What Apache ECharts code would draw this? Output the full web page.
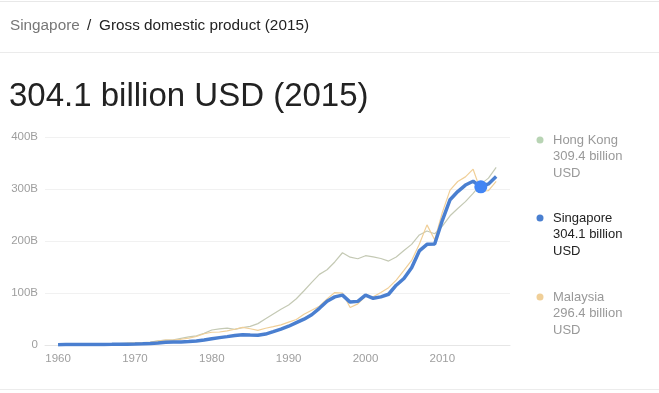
<!DOCTYPE html>
<html>
<head>
<meta charset="utf-8">
<script src="https://cdn.jsdelivr.net/npm/echarts@6/dist/echarts.min.js"></script>
<style>
html,body{margin:0;padding:0;background:#fff;}
#c{width:659px;height:393px;}
</style>
</head>
<body>
<div id="c"></div>
<script>
const years = [];
for (let y = 1960; y <= 2017; y++) years.push(y);
const singapore = [0.70,0.76,0.82,0.92,0.89,0.97,1.09,1.24,1.43,1.68,1.92,2.26,2.72,3.69,5.22,5.63,5.99,6.67,7.85,9.63,11.9,14.2,16.1,18.1,19.7,19.0,18.7,21.0,25.6,30.5,36.1,43.0,49.7,58.2,70.6,84.3,92.5,95.9,82.5,83.9,96.1,89.8,92.5,97.6,115.0,127.8,148.6,180.9,193.6,194.2,239.8,279.4,295.1,307.6,314.9,304.1,309.8,323.9];
const hongKong = [1.32,1.41,1.67,1.91,2.20,2.44,2.62,2.75,2.92,3.46,3.80,4.47,5.73,8.03,9.65,10.1,12.9,15.6,17.7,22.3,28.9,31.0,32.3,29.9,33.5,35.7,41.1,50.6,59.7,68.8,76.9,88.9,104.3,120.4,135.8,144.7,159.7,177.4,168.9,165.8,171.7,169.4,166.3,161.4,169.1,181.6,193.5,211.6,219.3,214.0,228.6,248.5,262.6,275.7,291.5,309.4,320.9,341.4];
const malaysia = [1.92,1.88,2.00,2.20,2.39,2.58,2.74,2.87,2.89,3.17,3.86,4.24,5.08,7.66,9.65,9.34,11.0,13.2,16.4,21.6,24.5,25.0,27.3,30.3,33.9,31.2,28.0,32.2,35.3,38.8,44.0,49.1,59.2,66.9,74.5,88.7,100.9,100.0,72.2,79.1,93.8,92.8,100.8,110.2,124.7,143.5,162.7,193.6,231.0,202.3,255.0,297.9,314.4,323.3,338.1,296.4,296.8,314.7];
const xTicks = [1960,1970,1980,1990,2000,2010];
const yTicks = [0,100,200,300,400];
const highlightYear = 2015;

const font = 'Liberation Sans, Arial, sans-serif';
const pair = arr => years.map((y,i)=>[y,arr[i]]);
const sgData = years.map((y,i)=> y===highlightYear
  ? {value:[y,singapore[i]], symbol:'circle', symbolSize:13, itemStyle:{color:'#4285f4',opacity:1}}
  : {value:[y,singapore[i]]});

const chart = echarts.init(document.getElementById('c'));
chart.setOption({
  animation:false,
  grid:{left:45,right:149,top:137,bottom:48},
  xAxis:{type:'value',min:1958.3,max:2018.8,
    axisLine:{show:true,lineStyle:{color:'#e6e6e6'}},
    axisTick:{show:false},
    splitLine:{show:false},
    axisLabel:{customValues:xTicks,color:'#9e9e9e',fontSize:11.5,fontFamily:font,margin:8,
      formatter:v=>String(v)}},
  yAxis:{type:'value',min:0,max:400,interval:100,
    axisLine:{show:false},axisTick:{show:false},
    splitLine:{lineStyle:{color:'#f1f1f1'}},
    axisLabel:{color:'#9e9e9e',fontSize:11.5,fontFamily:font,margin:7,
      formatter:v=> v===0?'0':v+'B'}},
  series:[
    {name:'Hong Kong',type:'line',data:pair(hongKong),showSymbol:false,
      lineStyle:{color:'#c4c9b4',width:1.2},z:2},
    {name:'Malaysia',type:'line',data:pair(malaysia),showSymbol:false,
      lineStyle:{color:'#f0cf98',width:1.2},z:2},
    {name:'Singapore',type:'line',data:sgData,showSymbol:true,symbol:'none',showAllSymbol:true,
      lineStyle:{color:'#4a7fd0',width:3.5},itemStyle:{color:'#4285f4'},z:3}
  ],
  graphic:[
    {type:'rect',shape:{x:0,y:1,width:659,height:1},style:{fill:'#e8e8e8'}},
    {type:'text',left:10,top:18,style:{text:'Singapore',fill:'#777',font:'15.3px '+font}},
    {type:'text',left:87,top:18,style:{text:'/',fill:'#222',font:'15.3px '+font}},
    {type:'text',left:99,top:18,style:{text:'Gross domestic product (2015)',fill:'#222',font:'15.3px '+font}},
    {type:'rect',shape:{x:0,y:52,width:659,height:1},style:{fill:'#ebebeb'}},
    {type:'text',left:9,top:80,style:{text:'304.1 billion USD (2015)',fill:'#222',font:'33px '+font}},
    {type:'rect',shape:{x:0,y:389,width:659,height:1},style:{fill:'#ececec'}},
    {type:'circle',shape:{cx:540,cy:140,r:3.5},style:{fill:'#b8d4b4'}},
    {type:'text',left:553,top:132,style:{text:'Hong Kong\n309.4 billion\nUSD',fill:'#999',font:'13px '+font,lineHeight:16.5}},
    {type:'circle',shape:{cx:540,cy:218,r:3.5},style:{fill:'#4a7fd0'}},
    {type:'text',left:553,top:210,style:{text:'Singapore\n304.1 billion\nUSD',fill:'#222',font:'13px '+font,lineHeight:16.5}},
    {type:'circle',shape:{cx:540,cy:297,r:3.5},style:{fill:'#f0cf98'}},
    {type:'text',left:553,top:289,style:{text:'Malaysia\n296.4 billion\nUSD',fill:'#999',font:'13px '+font,lineHeight:16.5}}
  ]
});
</script>
</body>
</html>
